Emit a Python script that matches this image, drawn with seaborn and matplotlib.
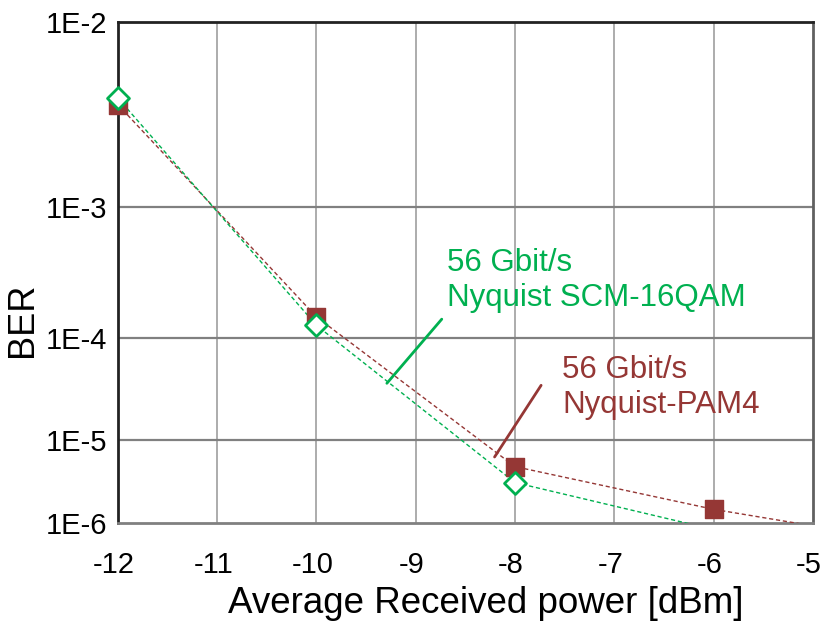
import numpy as np
import pandas as pd
import matplotlib
matplotlib.use("Agg")
import matplotlib.pyplot as plt
import matplotlib.transforms as mtransforms
import seaborn as sns
from matplotlib.ticker import FixedLocator, FixedFormatter, NullLocator

# ---- data ----
power_pam4 = [-12, -10, -8, -6, -4]
ber_pam4 = [4.0e-3, 1.52e-4, 5.0e-6, 1.51e-6, 5.5e-7]
power_qam = [-12, -10, -8, -4]
ber_qam = [4.33e-3, 1.29e-4, 3.24e-6, 1.8e-7]
x_ticks = [-12, -11, -10, -9, -8, -7, -6, -5]
y_ticks = [1e-2, 1e-3, 1e-4, 1e-5, 1e-6]
y_tick_labels = ["1E-2", "1E-3", "1E-4", "1E-5", "1E-6"]
label_pam4 = "56 Gbit/s\nNyquist-PAM4"
label_qam = "56 Gbit/s\nNyquist SCM-16QAM"

RED = "#953735"
GREEN = "#00B050"
Y_MIN, Y_MAX = 1e-6, 1e-2

sns.set_style("white")
plt.rcParams['font.family'] = ['Liberation Sans', 'DejaVu Sans']
plt.rcParams['text.color'] = 'black'
plt.rcParams['axes.labelcolor'] = 'black'
plt.rcParams['xtick.color'] = 'black'
plt.rcParams['ytick.color'] = 'black'

fig = plt.figure(figsize=(8.21, 6.28), dpi=100)
ax = fig.add_axes([0.1437, 0.167, 0.8463, 0.798])

df_p = pd.DataFrame({"x": power_pam4, "y": ber_pam4})
df_q = pd.DataFrame({"x": power_qam, "y": ber_qam})

# dashed connecting lines (clipped to the axes)
sns.lineplot(data=df_p, x="x", y="y", ax=ax, sort=False, estimator=None,
             color=RED, lw=1.0, dashes=False, linestyle=(0, (3, 2)), zorder=3)
sns.lineplot(data=df_q, x="x", y="y", ax=ax, sort=False, estimator=None,
             color=GREEN, lw=1.0, dashes=False, linestyle=(0, (3, 2)), zorder=3)

# markers (only those inside the plotted range, unclipped at the frame)
mp = df_p[(df_p.y >= Y_MIN) & (df_p.y <= Y_MAX)]
mq = df_q[(df_q.y >= Y_MIN) & (df_q.y <= Y_MAX)]
sns.scatterplot(data=mp, x="x", y="y", ax=ax, marker="s", s=150,
                color=RED, edgecolor=RED, linewidth=1, zorder=4, clip_on=False)
sns.scatterplot(data=mq, x="x", y="y", ax=ax, marker="D", s=125,
                facecolor="white", edgecolor=GREEN, linewidth=2, zorder=5,
                clip_on=False)

def fwd(y):
    y = np.clip(np.asarray(y, dtype=float), 1e-300, 0.999999)
    return -np.log10(-np.log10(y))

def inv(v):
    return 10.0 ** (-(10.0 ** (-np.asarray(v, dtype=float))))

ax.set_yscale("function", functions=(fwd, inv))
ax.set_ylim(Y_MIN, Y_MAX)
ax.set_xlim(-12, -5)
ax.yaxis.set_major_locator(FixedLocator(y_ticks))
ax.yaxis.set_major_formatter(FixedFormatter(y_tick_labels))
ax.yaxis.set_minor_locator(NullLocator())
ax.set_xticks(x_ticks)
ax.set_xticklabels([str(t) for t in x_ticks])

ax.grid(False)
for t in x_ticks[1:-1]:
    ax.axvline(t, color="#a6a6a6", lw=1.3, zorder=1)
for t in y_ticks[1:-1]:
    ax.axhline(t, color="#808080", lw=1.6, zorder=1)

ax.tick_params(axis="both", length=0, labelsize=21, colors="black")
ax.tick_params(axis="y", pad=8)
ax.tick_params(axis="x", pad=20)

offset = mtransforms.ScaledTranslation(-4 / 100, 0, fig.dpi_scale_trans)
for lab in ax.get_xticklabels():
    lab.set_transform(lab.get_transform() + offset)

ax.set_xlabel("Average Received power [dBm]", fontsize=26.5)
ax.set_ylabel("BER", fontsize=26)
ax.xaxis.set_label_coords(0.529, -0.125)
ax.yaxis.set_label_coords(-0.112, 0.405)

for s in ["top", "left"]:
    ax.spines[s].set_color("#222222")
    ax.spines[s].set_linewidth(2)
ax.spines["right"].set_color("#606060")
ax.spines["right"].set_linewidth(2)
ax.spines["bottom"].set_color("#808080")
ax.spines["bottom"].set_linewidth(2)

ax.text(0.473, 0.549, label_qam, transform=ax.transAxes, color=GREEN,
        fontsize=22.5, va="top", ha="left", linespacing=1.2)
ax.plot([0.387, 0.466], [0.279, 0.407], transform=ax.transAxes,
        color=GREEN, lw=2, zorder=6)
ax.text(0.639, 0.335, label_pam4, transform=ax.transAxes, color=RED,
        fontsize=22.5, va="top", ha="left", linespacing=1.2)
ax.plot([0.542, 0.609], [0.132, 0.275], transform=ax.transAxes,
        color=RED, lw=2, zorder=6)

fig.savefig("out.png", dpi=100)
